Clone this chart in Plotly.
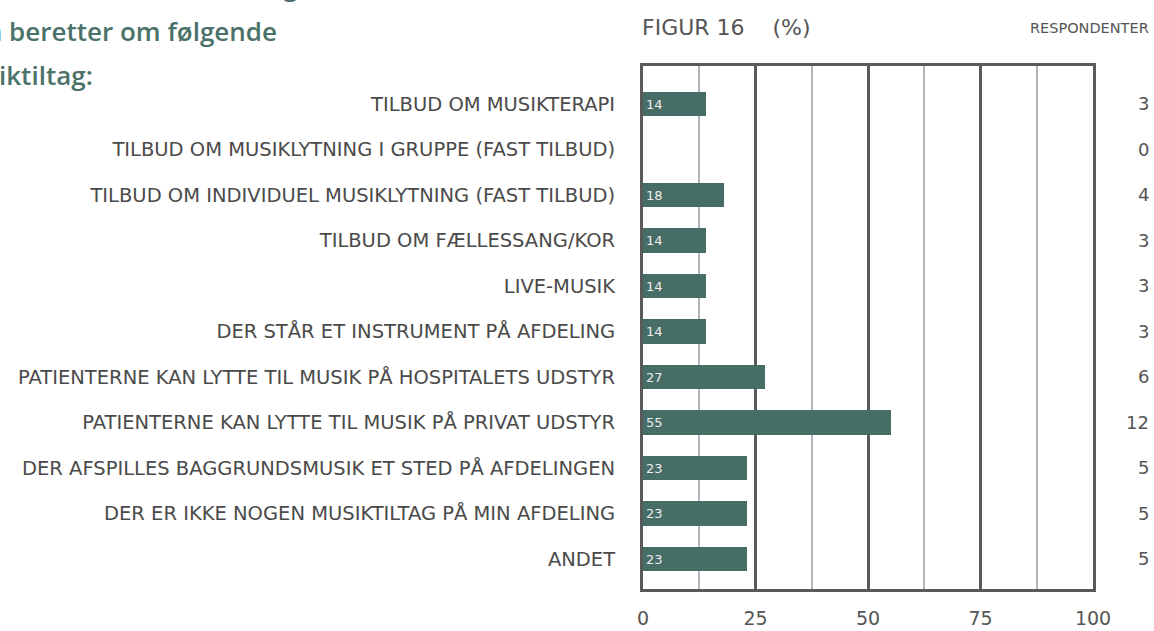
import plotly.graph_objects as go

categories = [
    "TILBUD OM MUSIKTERAPI",
    "TILBUD OM MUSIKLYTNING I GRUPPE (FAST TILBUD)",
    "TILBUD OM INDIVIDUEL MUSIKLYTNING (FAST TILBUD)",
    "TILBUD OM FÆLLESSANG/KOR",
    "LIVE-MUSIK",
    "DER STÅR ET INSTRUMENT PÅ AFDELING",
    "PATIENTERNE KAN LYTTE TIL MUSIK PÅ HOSPITALETS UDSTYR",
    "PATIENTERNE KAN LYTTE TIL MUSIK PÅ PRIVAT UDSTYR",
    "DER AFSPILLES BAGGRUNDSMUSIK ET STED PÅ AFDELINGEN",
    "DER ER IKKE NOGEN MUSIKTILTAG PÅ MIN AFDELING",
    "ANDET",
]
percent = [14, 0, 18, 14, 14, 14, 27, 55, 23, 23, 23]
respondents = [3, 0, 4, 3, 3, 3, 6, 12, 5, 5, 5]
x_ticks = [0, 25, 50, 75, 100]

W, H = 1154, 631
L, R, T, B = 643, 61, 66, 42
PW = W - L - R
PH = H - T - B

BAR = "#466d66"
GREEN_TXT = "#4a7268"
GRAY = "#555555"
FONT = "DejaVu Sans"
TFONT = "Open Sans"

def px_x(p):
    return (p - L) / PW

def px_y(p):
    return 1 + (T - p) / PH

fig = go.Figure()
fig.add_trace(go.Bar(
    y=categories,
    x=percent,
    orientation="h",
    marker=dict(color=BAR, line=dict(width=0)),
    width=0.53,
    text=[str(v) if v > 0 else "" for v in percent],
    textposition="inside",
    insidetextanchor="start",
    textangle=0,
    constraintext="none",
    textfont=dict(family=FONT, size=13, color="#eeeeee"),
    hoverinfo="skip",
))

annotations = []
for cat, n in zip(categories, respondents):
    annotations.append(dict(
        x=px_x(1151), xref="paper", y=cat, yref="y",
        text=str(n), showarrow=False, xanchor="right", yanchor="middle",
        font=dict(family=FONT, size=18, color=GRAY),
    ))

annotations.append(dict(
    x=px_x(1151), xref="paper", y=px_y(28), yref="paper",
    text="RESPONDENTER", showarrow=False, xanchor="right", yanchor="middle",
    font=dict(family=FONT, size=14.5, color=GRAY),
))

annotations.append(dict(
    x=px_x(640), xref="paper", y=px_y(28), yref="paper",
    text="FIGUR 16&nbsp;&nbsp;&nbsp;&nbsp;(%)", showarrow=False, xanchor="left", yanchor="middle",
    font=dict(family=FONT, size=22, color=GRAY),
))

title_lines = [
    ("Andel af respondenter, hvis afdeling", -14, 300),
    ("som beretter om følgende", 31, 279),
    ("musiktiltag:", 75, 95),
]
for txt, yc, xr in title_lines:
    annotations.append(dict(
        x=px_x(xr), xref="paper", y=px_y(yc), yref="paper",
        text=txt, showarrow=False, xanchor="right", yanchor="middle",
        font=dict(family=TFONT, size=26, color=GREEN_TXT, weight=600),
    ))

fig.update_layout(
    width=W, height=H,
    margin=dict(l=L, r=R, t=T, b=B, pad=0),
    paper_bgcolor="white", plot_bgcolor="white",
    showlegend=False,
    bargap=0,
    annotations=annotations,
    xaxis=dict(
        range=[0, 100],
        tickvals=x_ticks,
        ticktext=[str(v) for v in x_ticks],
        showgrid=True, gridcolor="#5a5a5a", gridwidth=2.5,
        minor=dict(dtick=12.5, tick0=0, showgrid=True, gridcolor="#b4b4b8", gridwidth=2),
        showline=True, linecolor="#5a5a5a", linewidth=3, mirror=True,
        ticks="", ticklabelstandoff=10,
        tickfont=dict(family=FONT, size=19, color=GRAY),
        zeroline=False, fixedrange=True, automargin=False,
    ),
    yaxis=dict(
        type="category",
        range=[10.66, -0.835],
        showgrid=False,
        showline=True, linecolor="#5a5a5a", linewidth=3, mirror=True,
        ticks="", ticklabelstandoff=21,
        tickfont=dict(family=FONT, size=19.5, color="#4a4a4a"),
        zeroline=False, fixedrange=True, automargin=False,
    ),
)

fig.write_html(
    "out.html",
    config={"displayModeBar": False},
    post_script="document.body.style.margin='0';document.body.style.overflow='hidden';",
)
